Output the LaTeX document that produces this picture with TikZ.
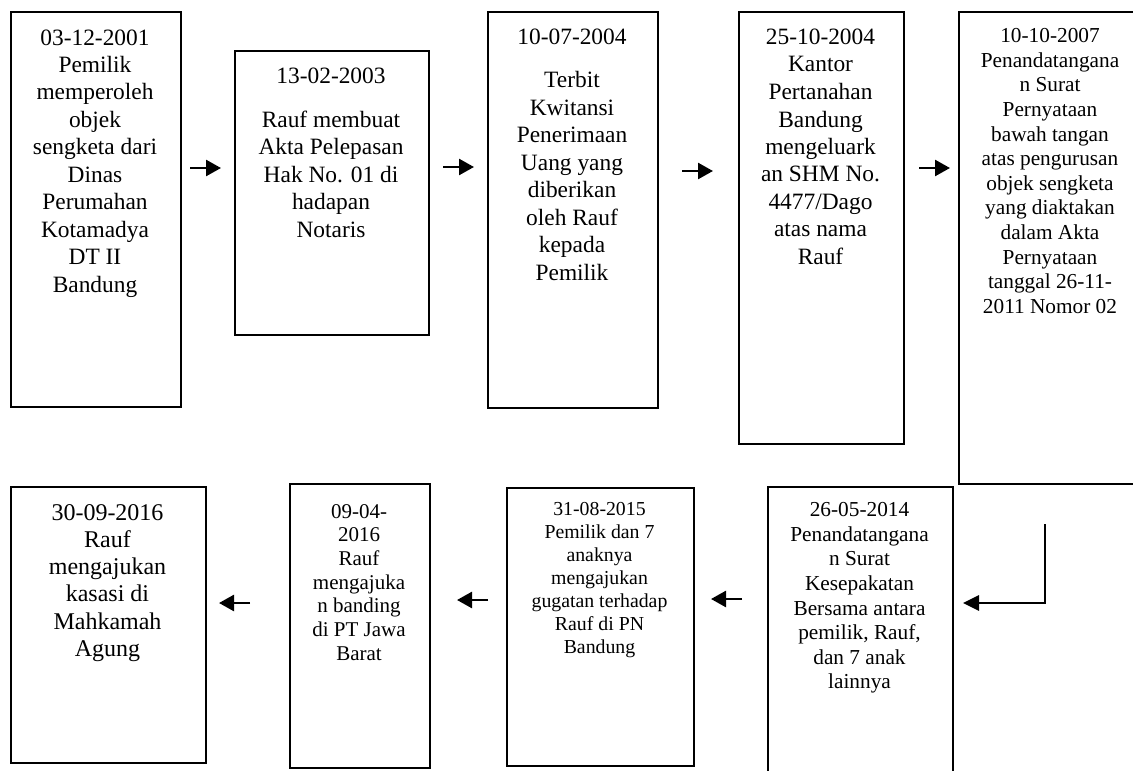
\documentclass[tikz,border=0pt]{standalone}
\usepackage{fontspec}
\setmainfont{Liberation Serif}
\usetikzlibrary{arrows.meta}
\tikzset{
  box/.style={draw=black, line width=1.6pt, rectangle, inner sep=0pt, anchor=north west},
  txt/.style={inner sep=0pt, anchor=base},
  fA/.style={font=\fontsize{23.4}{27.5}\selectfont},
  fB/.style={font=\fontsize{21.3}{24.6}\selectfont},
  fC/.style={font=\fontsize{19.8}{23}\selectfont},
  fD/.style={font=\fontsize{24}{27.3}\selectfont},
  fE/.style={font=\fontsize{21}{23.7}\selectfont},
  arr/.style={line width=2.6pt, -{Triangle[length=15pt,width=16pt]}},
  elb/.style={line width=2.8pt, -{Triangle[length=16pt,width=15pt]}}
}
\begin{document}
\begin{tikzpicture}[x=1pt,y=-1pt]
\useasboundingbox (0,0) rectangle (1133,771);
% top row boxes
\node[box, minimum width=170pt, minimum height=395pt] (b1) at (10,11) {};
\node[box, minimum width=194pt, minimum height=284pt] (b2) at (234,50) {};
\node[box, minimum width=170pt, minimum height=396pt] (b3) at (487,11) {};
\node[box, minimum width=165pt, minimum height=432pt] (b4) at (738,11) {};
\node[box, minimum width=184pt, minimum height=472pt] (b5) at (958,11) {};
% bottom row boxes
\node[box, minimum width=195pt, minimum height=276pt] (b6) at (10,486) {};
\node[box, minimum width=140pt, minimum height=284pt] (b7) at (289,483) {};
\node[box, minimum width=187pt, minimum height=278pt] (b8) at (506,487) {};
\node[box, minimum width=185pt, minimum height=300pt] (b9) at (767,486) {};
% texts
\node[txt, fA] (t1) at (95,45) {\begin{tabular}[t]{@{}c@{}}03-12-2001\\Pemilik\\memperoleh\\objek\\sengketa dari\\Dinas\\Perumahan\\Kotamadya\\DT II\\Bandung\end{tabular}};
\node[txt, fA] (t2) at (331,83) {\begin{tabular}[t]{@{}c@{}}13-02-2003\\[16.5pt]Rauf membuat\\Akta Pelepasan\\Hak No. 01 di\\hadapan\\Notaris\end{tabular}};
\node[txt, fA] (t3) at (572,44.5) {\begin{tabular}[t]{@{}c@{}}10-07-2004\\[16pt]Terbit\\Kwitansi\\Penerimaan\\Uang yang\\diberikan\\oleh Rauf\\kepada\\Pemilik\end{tabular}};
\node[txt, fA] (t4) at (820.5,44.5) {\begin{tabular}[t]{@{}c@{}}25-10-2004\\Kantor\\Pertanahan\\Bandung\\mengeluark\\an SHM No.\\4477/Dago\\atas nama\\Rauf\end{tabular}};
\node[txt, fB] (t5) at (1050,42.7) {\begin{tabular}[t]{@{}c@{}}10-10-2007\\Penandatangana\\n Surat\\Pernyataan\\bawah tangan\\atas pengurusan\\objek sengketa\\yang diaktakan\\dalam Akta\\Pernyataan\\tanggal 26-11-\\2011 Nomor 02\end{tabular}};
\node[txt, fD] (t6) at (107.5,520) {\begin{tabular}[t]{@{}c@{}}30-09-2016\\Rauf\\mengajukan\\kasasi di\\Mahkamah\\Agung\end{tabular}};
\node[txt, fE] (t7) at (359,518) {\begin{tabular}[t]{@{}c@{}}09-04-\\2016\\Rauf\\mengajuka\\n banding\\di PT Jawa\\Barat\end{tabular}};
\node[txt, fC] (t8) at (599.5,515) {\begin{tabular}[t]{@{}c@{}}31-08-2015\\Pemilik dan 7\\anaknya\\mengajukan\\gugatan terhadap\\Rauf di PN\\Bandung\end{tabular}};
\node[txt, fB] (t9) at (859.5,516.7) {\begin{tabular}[t]{@{}c@{}}26-05-2014\\Penandatangana\\n Surat\\Kesepakatan\\Bersama antara\\pemilik, Rauf,\\dan 7 anak\\lainnya\end{tabular}};
% arrow end points
\coordinate (a1s) at (190,168); \coordinate (a1e) at (221,168);
\coordinate (a2s) at (443,167); \coordinate (a2e) at (474,167);
\coordinate (a3s) at (682,171); \coordinate (a3e) at (713,171);
\coordinate (a4s) at (919,168); \coordinate (a4e) at (950,168);
\coordinate (e1) at (1045,524); \coordinate (e2) at (1045,603); \coordinate (e3) at (963,603);
\coordinate (a5s) at (742,599); \coordinate (a5e) at (711,599);
\coordinate (a6s) at (488,600); \coordinate (a6e) at (457,600);
\coordinate (a7s) at (250,603); \coordinate (a7e) at (219,603);
\draw[arr] (a1s) -- (a1e);
\draw[arr] (a2s) -- (a2e);
\draw[arr] (a3s) -- (a3e);
\draw[arr] (a4s) -- (a4e);
\draw[elb] (e1) -- (e2) -- (e3);
\draw[arr] (a5s) -- (a5e);
\draw[arr] (a6s) -- (a6e);
\draw[arr] (a7s) -- (a7e);
\end{tikzpicture}
\end{document}
